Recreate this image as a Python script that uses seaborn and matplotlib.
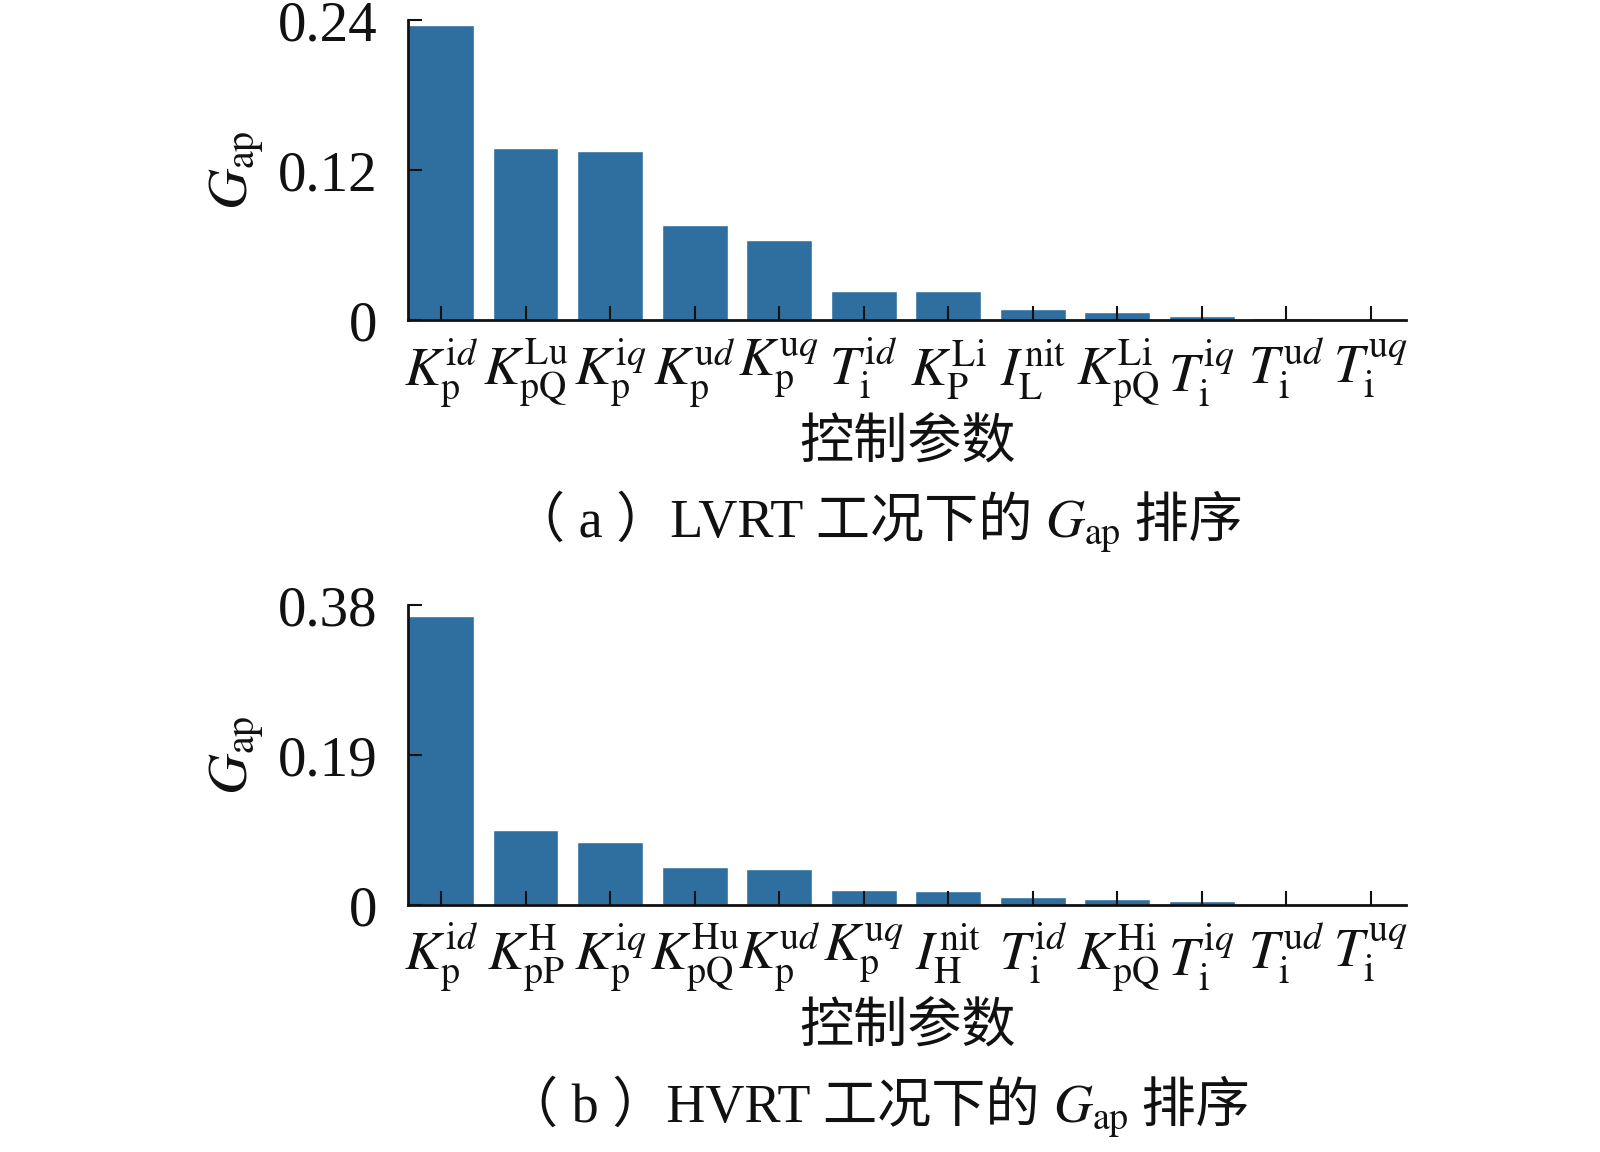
import matplotlib
matplotlib.use("Agg")
import matplotlib.pyplot as plt
import seaborn as sns
import pandas as pd

# ---- data ----
lvrt_params = [r"$K_{\rm p}^{\rm i\mathit{d}}$", r"$K_{\rm pQ}^{\rm Lu}$", r"$K_{\rm p}^{\rm i\mathit{q}}$",
               r"$K_{\rm p}^{\rm u\mathit{d}}$", r"$K_{\rm p}^{\rm u\mathit{q}}$", r"$T_{\rm i}^{\rm i\mathit{d}}$",
               r"$K_{\rm P}^{\rm Li}$", r"$I_{\rm L}^{\rm nit}$", r"$K_{\rm pQ}^{\rm Li}$",
               r"$T_{\rm i}^{\rm i\mathit{q}}$", r"$T_{\rm i}^{\rm u\mathit{d}}$", r"$T_{\rm i}^{\rm u\mathit{q}}$"]
lvrt_gap = [0.2367, 0.138, 0.1355, 0.076, 0.064, 0.0232, 0.0232, 0.0093, 0.0068, 0.0033, 0.0016, 0.0002]

hvrt_params = [r"$K_{\rm p}^{\rm i\mathit{d}}$", r"$K_{\rm pP}^{\rm H}$", r"$K_{\rm p}^{\rm i\mathit{q}}$",
               r"$K_{\rm pQ}^{\rm Hu}$", r"$K_{\rm p}^{\rm u\mathit{d}}$", r"$K_{\rm p}^{\rm u\mathit{q}}$",
               r"$I_{\rm H}^{\rm nit}$", r"$T_{\rm i}^{\rm i\mathit{d}}$", r"$K_{\rm pQ}^{\rm Hi}$",
               r"$T_{\rm i}^{\rm i\mathit{q}}$", r"$T_{\rm i}^{\rm u\mathit{d}}$", r"$T_{\rm i}^{\rm u\mathit{q}}$"]
hvrt_gap = [0.366, 0.0956, 0.0797, 0.0478, 0.0453, 0.0189, 0.0172, 0.0097, 0.008, 0.0055, 0.0003, 0.0002]

lvrt_yticks = [0, 0.12, 0.24]
lvrt_yticklabels = ["0", "0.12", "0.24"]
hvrt_yticks = [0, 0.19, 0.38]
hvrt_yticklabels = ["0", "0.19", "0.38"]

xlabel_text = "控制参数"
caption_a = ["（ a ）LVRT 工况下的 ", r"$G_{\rm ap}$", " 排序"]
caption_b = ["（ b ）HVRT 工况下的 ", r"$G_{\rm ap}$", " 排序"]

# ---- style ----
sns.set_theme(style="ticks")
plt.rcParams["font.family"] = ["Liberation Serif", "Noto Sans CJK SC", "DejaVu Sans"]
plt.rcParams["mathtext.fontset"] = "stix"
plt.rcParams["axes.unicode_minus"] = False

bar_color = "#2f6f9f"
ink = "#111111"

fig = plt.figure(figsize=(16, 11.52), dpi=100)
ax1 = fig.add_axes([0.255, 0.7219, 0.624, 0.2604])
ax2 = fig.add_axes([0.255, 0.2144, 0.624, 0.2604])


def draw(ax, params, vals, yticks, yticklabels, ymax):
    df = pd.DataFrame({"param": params, "gap": vals})
    sns.barplot(data=df, x="param", y="gap", order=params, color=bar_color,
                saturation=1, width=0.78, ax=ax)
    ax.set_axisbelow(False)
    ax.set_xlim(-0.39, 11.42)
    ax.set_ylim(0, ymax)
    ax.set_yticks(yticks)
    ax.set_yticklabels(yticklabels)
    ax.tick_params(axis="both", direction="in", length=10, width=1.5, color=ink,
                   labelsize=41, labelcolor=ink)
    ax.tick_params(axis="x", pad=12, labelsize=39)
    ax.tick_params(axis="y", pad=22)
    for side in ["top", "right"]:
        ax.spines[side].set_visible(False)
    for side in ["left", "bottom"]:
        ax.spines[side].set_linewidth(2)
        ax.spines[side].set_color(ink)
    ax.set_xlabel(xlabel_text, fontsize=39, labelpad=6, color=ink)
    ax.set_ylabel(r"$G_{\rm ap}$", fontsize=41, labelpad=8, color=ink)


draw(ax1, lvrt_params, lvrt_gap, lvrt_yticks, lvrt_yticklabels, 0.24)
draw(ax2, hvrt_params, hvrt_gap, hvrt_yticks, hvrt_yticklabels, 0.38)


def caption(parts, xc, y):
    renderer = fig.canvas.get_renderer()
    texts = []
    widths = []
    for p in parts:
        t = fig.text(0, y, p, ha="left", va="baseline", fontsize=39, color=ink)
        w = t.get_window_extent(renderer).width / fig.bbox.width
        texts.append(t)
        widths.append(w)
    total = sum(widths)
    x = xc - total / 2
    for t, w in zip(texts, widths):
        t.set_x(x)
        x += w


caption(caption_a, 0.548, 0.534)
caption(caption_b, 0.548, 0.026)

fig.savefig("out.png", dpi=100)
